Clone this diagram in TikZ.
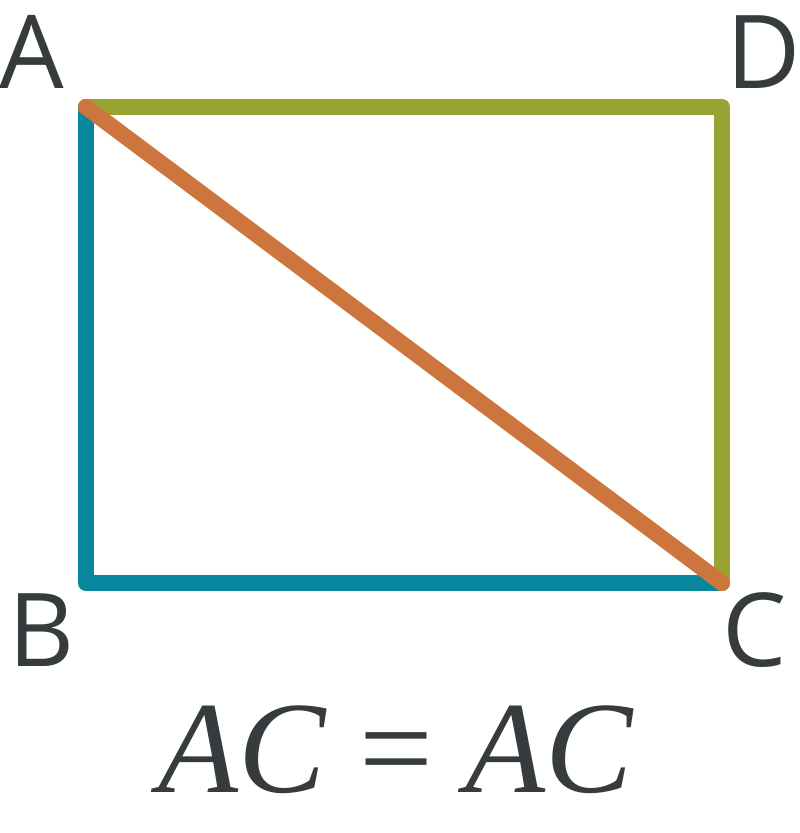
\documentclass[tikz,border=0pt]{standalone}
\usepackage{fontspec}
\setmainfont{Open Sans}
\newfontfamily\eqfont{Liberation Serif}
\definecolor{tealc}{HTML}{08869E}
\definecolor{greenc}{HTML}{97A432}
\definecolor{orangec}{HTML}{CC763D}
\definecolor{textc}{HTML}{363B3E}
\begin{document}
\begin{tikzpicture}[x=1pt,y=-1pt,
  edge/.style={line width=16pt,line cap=round,line join=round},
  vlabel/.style={anchor=base,inner sep=0pt,text=textc,font=\fontsize{102}{102}\selectfont},
  eqlabel/.style={anchor=base,inner sep=0pt,text=textc,font=\eqfont\fontsize{131}{131}\selectfont}]
\useasboundingbox (0,0) rectangle (800,833);
\coordinate (A) at (86,107);
\coordinate (D) at (722,107);
\coordinate (B) at (86,583);
\coordinate (C) at (722,583);
\draw[edge,tealc] (A) -- (B) -- (C);
\draw[edge,greenc] (A) -- (D) -- (C);
\draw[edge,orangec] (A) -- (C);
\node[vlabel] (lA) at (32,88) {A};
\node[vlabel] (lD) at (764,88) {D};
\node[vlabel] (lB) at (42,666) {B};
\node[vlabel] (lC) at (755,666) {C};
\node[eqlabel] (eq) at (396,792) {\itshape AC\hspace{0.25em}\upshape=\hspace{0.25em}\itshape AC};
\end{tikzpicture}
\end{document}
